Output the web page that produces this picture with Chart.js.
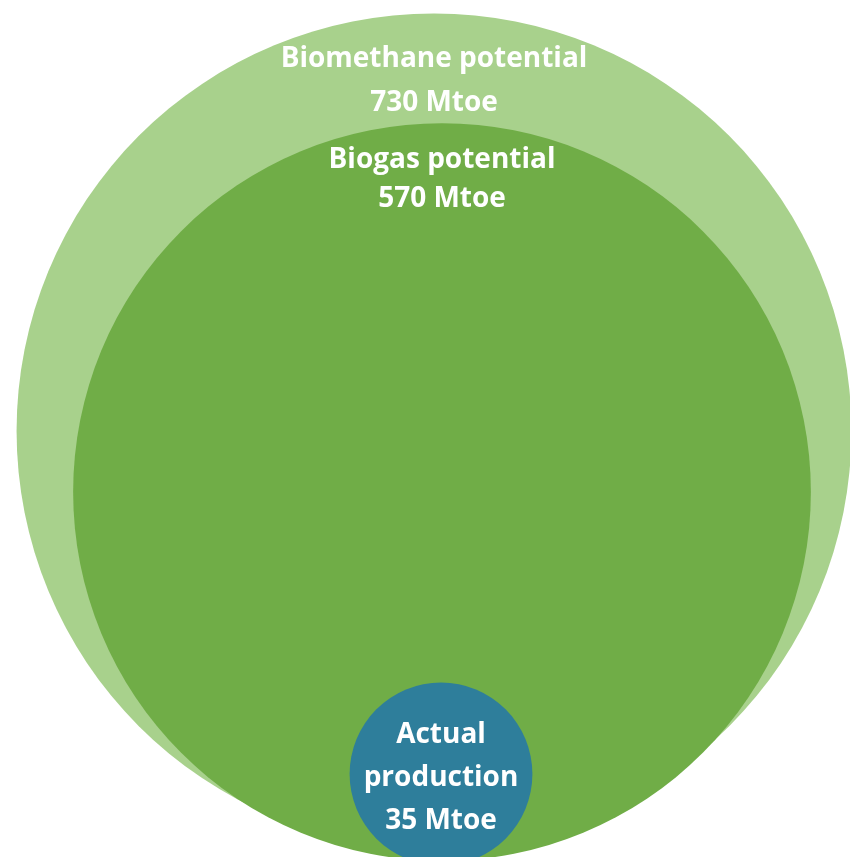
<!DOCTYPE html>
<html>
<head>
<meta charset="utf-8">
<script src="https://cdn.jsdelivr.net/npm/chart.js@4.4.1/dist/chart.umd.min.js"></script>
<style>
  html, body { margin: 0; padding: 0; background: #ffffff; }
  #wrap { width: 850px; height: 857px; }
</style>
</head>
<body>
<div id="wrap"><canvas id="c" width="850" height="857"></canvas></div>
<script>
// ---- data ----
const categories = ["Biomethane potential", "Biogas potential", "Actual production"];
const labelLines = [["Biomethane potential"], ["Biogas potential"], ["Actual", "production"]];
const valuesMtoe = [730, 570, 35];
const unit = "Mtoe";

// ---- layout / style (not data) ----
const centerX = [434, 442, 441];
const centerY = [431, 492, 774];
const radiusPerSqrt = 15.45;
const colors = ["#a8d18c", "#70ad47", "#2e7e9b"];
const firstBaseline = [53, 45, 60];   // offset from circle top
const lineStep = [44, 39, 43];

const labelPlugin = {
  id: "circleLabels",
  afterDatasetsDraw(chart) {
    const ctx = chart.ctx;
    const meta = chart.getDatasetMeta(0);
    ctx.save();
    ctx.fillStyle = "#ffffff";
    ctx.textAlign = "center";
    ctx.textBaseline = "alphabetic";
    ctx.font = "bold 28px 'Open Sans', Lato, sans-serif";
    meta.data.forEach((el, i) => {
      const lines = labelLines[i].concat([valuesMtoe[i] + " " + unit]);
      const top = el.y - el.options.radius;
      lines.forEach((t, k) => ctx.fillText(t, el.x, top + firstBaseline[i] + k * lineStep[i]));
    });
    ctx.restore();
  }
};

new Chart(document.getElementById("c"), {
  type: "bubble",
  data: {
    datasets: [{
      label: "Potential",
      data: valuesMtoe.map((v, i) => ({ x: centerX[i], y: centerY[i], r: radiusPerSqrt * Math.sqrt(v) })),
      backgroundColor: colors,
      borderWidth: 0,
      clip: false
    }]
  },
  options: {
    responsive: false,
    animation: false,
    events: [],
    layout: { padding: 0, autoPadding: false },
    plugins: { legend: { display: false }, tooltip: { enabled: false } },
    scales: {
      x: { type: "linear", min: 0, max: 850, display: false },
      y: { type: "linear", min: 0, max: 857, reverse: true, display: false }
    }
  },
  plugins: [labelPlugin]
});
</script>
</body>
</html>
